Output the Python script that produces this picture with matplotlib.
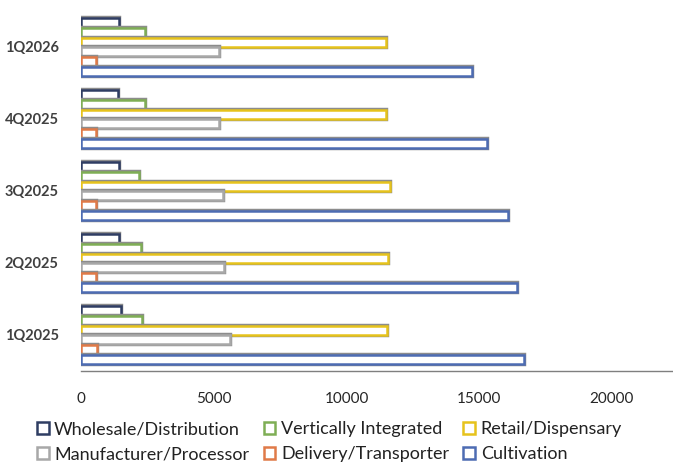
import numpy as np
import matplotlib
matplotlib.use("Agg")
from matplotlib import pyplot as plt
from matplotlib.patches import Patch

plt.rcParams['font.family'] = ['Lato', 'DejaVu Sans']

quarters = ['1Q2025', '2Q2025', '3Q2025', '4Q2025', '1Q2026']
series_names = ['Wholesale/Distribution', 'Vertically Integrated', 'Retail/Dispensary',
                'Manufacturer/Processor', 'Delivery/Transporter', 'Cultivation']
series_colors = ['#2f3d63', '#7fae55', '#e6c31c', '#a8a8a8', '#e07a48', '#4d6cb3']

wholesale = [1500, 1430, 1430, 1390, 1430]
vertically = [2290, 2250, 2180, 2400, 2400]
retail = [11540, 11580, 11650, 11500, 11500]
manufacturer = [5600, 5380, 5340, 5190, 5190]
delivery = [620, 560, 560, 560, 560]
cultivation = [16690, 16430, 16090, 15300, 14740]

values = [wholesale, vertically, retail, manufacturer, delivery, cultivation]

fig = plt.figure(figsize=(6.73, 4.63), dpi=100)
ax = fig.add_axes([81 / 673, 1 - 371 / 463, 1 - 81 / 673, 360 / 463])

y = np.arange(len(quarters))
bar_h = 0.137
n = len(series_names)
for i, (vals, col) in enumerate(zip(values, series_colors)):
    # first series sits on top of each group
    offs = y + (n / 2 - i - 0.5) * bar_h
    ax.barh(offs, vals, height=bar_h * 0.92, color='white', edgecolor='#8c8c8c', linewidth=3.2)
    ax.barh(offs, vals, height=bar_h * 0.92, color='white', edgecolor=col, linewidth=1.8)

ax.set_xlim(0, 22300)
ax.set_ylim(-0.5, len(quarters) - 0.5)
ax.set_yticks(y)
ax.set_yticklabels(quarters, fontsize=10.5, fontweight='bold', color='#404040')
ax.set_xticks([0, 5000, 10000, 15000, 20000])
ax.set_xticklabels(['0', '5000', '10000', '15000', '20000'], fontsize=11, color='#262626')
ax.tick_params(axis='both', length=0)
ax.tick_params(axis='y', pad=16)
ax.tick_params(axis='x', pad=15)
for s in ['top', 'right', 'left']:
    ax.spines[s].set_visible(False)
ax.spines['bottom'].set_color('#7f7f7f')
ax.spines['bottom'].set_linewidth(1.0)

# legend fills column by column, so reorder to read across rows
order = [0, 3, 1, 4, 2, 5]
handles = [Patch(facecolor='white', edgecolor=series_colors[k], linewidth=1.8) for k in order]
labels = [series_names[k] for k in order]
fig.legend(handles, labels, loc='lower left', bbox_to_anchor=(28 / 673, -0.018),
           ncol=3, frameon=False, fontsize=13, handlelength=0.65, handleheight=0.65,
           handletextpad=0.3, columnspacing=0.8, labelspacing=0.5, borderaxespad=0.1,
           labelcolor='#222222')

fig.savefig('out.png', dpi=100)
